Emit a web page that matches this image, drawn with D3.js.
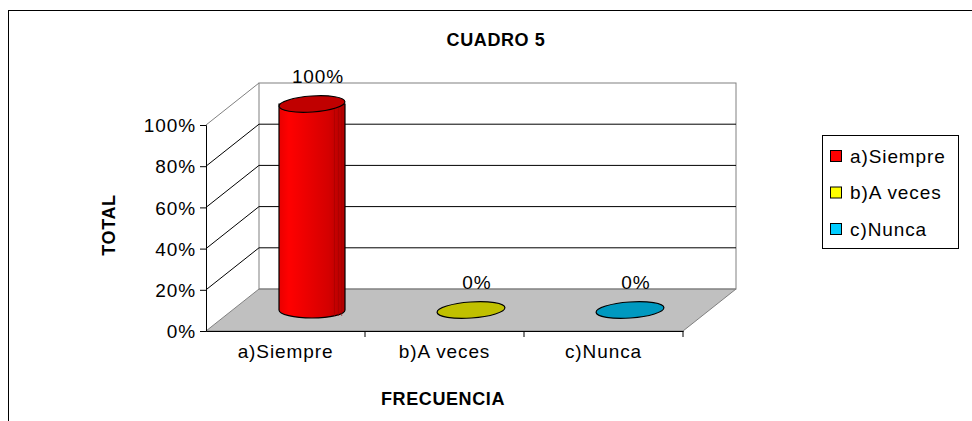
<!DOCTYPE html>
<html lang="es">
<head>
<meta charset="UTF-8">
<title>CUADRO 5</title>
<script src="https://cdnjs.cloudflare.com/ajax/libs/d3/7.8.5/d3.min.js"></script>
<style>
body{ margin:0; background:#fff; }
svg text{ font-family:"Liberation Sans", Arial, sans-serif; fill:#000; }
.lbl{ font-size:19px; letter-spacing:0.9px; }
.ttl{ font-size:18px; font-weight:bold; letter-spacing:0.6px; }
</style>
</head>
<body>
<div id="chart"></div>
<script>
// datos del cuadro
var categories = ['a)Siempre', 'b)A veces', 'c)Nunca'];
var values = [1, 0, 0];
var valueLabels = ['100%', '0%', '0%'];
var yTicks = [0, 0.2, 0.4, 0.6, 0.8, 1];
var barColors = ['#ff0000', '#c0c000', '#0099c0'];
var legendColors = ['#ff0000', '#ffff00', '#00ccff'];

var W = 972, H = 421;
var svg = d3.select('#chart').append('svg').attr('width', W).attr('height', H);

// marco exterior
svg.append('rect').attr('x', 8.5).attr('y', 10.5).attr('width', W + 10).attr('height', H + 10)
  .attr('fill', 'none').attr('stroke', '#000').attr('stroke-width', 1);

var x0 = 206, x1 = 683, yb = 331, yt = 125;
var dx = 53, dy = -42;   // profundidad 3D

var x = d3.scaleBand().domain(categories).range([x0, x1]).padding(0);
var y = d3.scaleLinear().domain([0, 1]).range([yb, yt]);

var defs = svg.append('defs');
var grad = defs.append('linearGradient').attr('id', 'cyl').attr('x1', 0).attr('x2', 1).attr('y1', 0).attr('y2', 0);
grad.append('stop').attr('offset', '0').attr('stop-color', '#e80000');
grad.append('stop').attr('offset', '0.15').attr('stop-color', '#ff0000');
grad.append('stop').attr('offset', '0.75').attr('stop-color', '#d40000');
grad.append('stop').attr('offset', '1').attr('stop-color', '#b00000');

// piso
svg.append('path')
  .attr('d', 'M' + x0 + ',' + yb + 'L' + (x0 + dx) + ',' + (yb + dy) + 'L' + (x1 + dx) + ',' + (yb + dy) + 'L' + x1 + ',' + yb + 'Z')
  .attr('fill', '#c0c0c0').attr('stroke', '#808080');

// pared trasera
svg.append('rect').attr('x', x0 + dx).attr('y', yt + dy).attr('width', x1 - x0).attr('height', yb - yt)
  .attr('fill', 'none').attr('stroke', '#808080');

// pared izquierda
svg.append('line').attr('x1', x0).attr('y1', yt).attr('x2', x0 + dx).attr('y2', yt + dy).attr('stroke', '#808080');

// lineas de division
yTicks.slice(1, -1).forEach(function (t) {
  var yy = y(t);
  svg.append('path')
    .attr('d', 'M' + x0 + ',' + yy + 'L' + (x0 + dx) + ',' + (yy + dy) + 'L' + (x1 + dx) + ',' + (yy + dy))
    .attr('fill', 'none').attr('stroke', '#000').attr('stroke-width', 1);
});

// ejes
var yAxis = svg.append('g').attr('transform', 'translate(' + x0 + ',0)')
  .call(d3.axisLeft(y).tickValues(yTicks).tickFormat(d3.format('.0%')).tickSize(6).tickPadding(4));
var xAxis = svg.append('g').attr('transform', 'translate(0,' + yb + ')')
  .call(d3.axisBottom(x).tickSize(0).tickPadding(14));
[yAxis, xAxis].forEach(function (a) {
  a.select('.domain').attr('stroke', '#000');
  a.selectAll('.tick line').attr('stroke', '#000');
  a.selectAll('text').attr('class', 'lbl').attr('fill', '#000').style('font-family', null).style('font-size', null);
  a.attr('font-family', null).attr('font-size', null);
});
yAxis.selectAll('text').attr('dy', '0.35em');
xAxis.selectAll('text').attr('dy', '0.71em');
// marcas del eje x entre categorias
svg.selectAll('.xtick').data(categories).enter().append('line')
  .attr('x1', function (d) { return x(d) + x.bandwidth(); })
  .attr('x2', function (d) { return x(d) + x.bandwidth(); })
  .attr('y1', yb).attr('y2', yb + 6).attr('stroke', '#000');

// cilindros
var rx = 33, ry = 8;
categories.forEach(function (c, i) {
  var cx = x(c) + x.bandwidth() / 2 + dx / 2;
  var cyB = y(0) + dy / 2;
  var cyT = y(values[i]) + dy / 2;
  var g = svg.append('g');
  if (values[i] > 0) {
    g.append('path')
      .attr('d', 'M' + (cx - rx) + ',' + cyT + 'L' + (cx - rx) + ',' + cyB +
        'A' + rx + ',' + ry + ' 0 0 0 ' + (cx + rx) + ',' + cyB +
        'L' + (cx + rx) + ',' + cyT + 'Z')
      .attr('fill', 'url(#cyl)').attr('stroke', '#000').attr('stroke-width', 1.2);
    [0.84, 0.9, 0.95].forEach(function (f) {
      g.append('line').attr('x1', cx - rx + 2 * rx * f).attr('x2', cx - rx + 2 * rx * f)
        .attr('y1', cyT + 4).attr('y2', cyB + 6).attr('stroke', '#a00000').attr('stroke-width', 0.6);
    });
    g.append('ellipse').attr('cx', cx).attr('cy', cyT).attr('rx', rx).attr('ry', ry)
      .attr('transform', 'rotate(-4,' + cx + ',' + cyT + ')')
      .attr('fill', '#c00000').attr('stroke', '#000').attr('stroke-width', 1.2);
  } else {
    g.append('ellipse').attr('cx', cx).attr('cy', cyT).attr('rx', rx + 1).attr('ry', ry)
      .attr('transform', 'rotate(-4,' + cx + ',' + cyT + ')')
      .attr('fill', barColors[i]).attr('stroke', '#000').attr('stroke-width', 1.2);
  }
  svg.append('text').attr('class', 'lbl').attr('x', cx + 6).attr('y', cyT - 21)
    .attr('text-anchor', 'middle').text(valueLabels[i]);
});

// titulos
svg.append('text').attr('class', 'ttl').attr('x', 496).attr('y', 46).attr('text-anchor', 'middle').text('CUADRO 5');
svg.append('text').attr('class', 'ttl').attr('x', 443).attr('y', 405).attr('text-anchor', 'middle').text('FRECUENCIA');
svg.append('text').attr('class', 'ttl').attr('transform', 'translate(115,225) rotate(-90)')
  .attr('text-anchor', 'middle').text('TOTAL');

// leyenda
var leg = svg.append('g').attr('transform', 'translate(822,135)');
leg.append('rect').attr('x', 0.5).attr('y', 0.5).attr('width', 136).attr('height', 113)
  .attr('fill', '#fff').attr('stroke', '#000');
categories.forEach(function (c, i) {
  var ly = 21 + i * 36.5;
  leg.append('rect').attr('x', 8.5).attr('y', ly - 5.5).attr('width', 11).attr('height', 11)
    .attr('fill', legendColors[i]).attr('stroke', '#000');
  leg.append('text').attr('class', 'lbl').attr('x', 28).attr('y', ly).attr('dy', '0.35em').text(c);
});
</script>
</body>
</html>
